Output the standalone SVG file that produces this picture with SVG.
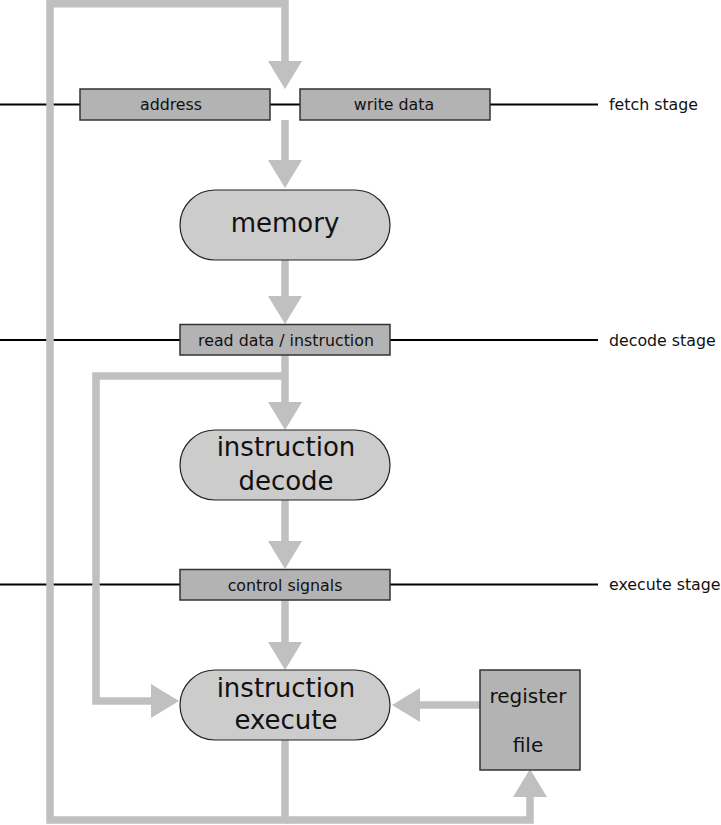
<svg xmlns="http://www.w3.org/2000/svg" width="721" height="825" viewBox="0 0 721 825">
<style>
.flow{fill:none;stroke:#c0c0c0;stroke-width:7.5;stroke-linejoin:miter}
.stage{fill:none;stroke:#000;stroke-width:2}
.reg{fill:#b3b3b3;stroke:#333;stroke-width:1.5}
.node{fill:#cccccc;stroke:#222;stroke-width:1.2}
.lbl{font-family:"DejaVu Sans",sans-serif;font-size:15.8px;fill:#111;text-anchor:middle}
.slbl{font-family:"DejaVu Sans",sans-serif;font-size:15.8px;fill:#111}
.big{font-family:"DejaVu Sans",sans-serif;font-size:26px;fill:#111;text-anchor:middle}
.mid{font-family:"DejaVu Sans",sans-serif;font-size:20px;fill:#111;text-anchor:middle}
</style>
<defs>
<marker id="ah" markerUnits="userSpaceOnUse" markerWidth="28" markerHeight="34" refX="0" refY="17" orient="auto" viewBox="0 0 28 34">
<path d="M0,0 L28,17 L0,34 z" fill="#c0c0c0"/>
</marker>
</defs>
<g id="stage-lines">
<path class="stage" d="M0,104.5 H80 M270,104.5 H300 M490,104.5 H598"/>
<path class="stage" d="M0,340 H180 M390,340 H598"/>
<path class="stage" d="M0,584.5 H180 M390,584.5 H598"/>
</g>
<g id="connectors">
<path class="flow" d="M285,740 V820 H50 V3.75 H285 V61" marker-end="url(#ah)"/>
<path class="flow" d="M285,820 H530 V797" marker-end="url(#ah)"/>
<path class="flow" d="M285,120 V160" marker-end="url(#ah)"/>
<path class="flow" d="M285,260 V296" marker-end="url(#ah)"/>
<path class="flow" d="M285,355 V402" marker-end="url(#ah)"/>
<path class="flow" d="M285,376 H96 V701 H151" marker-end="url(#ah)"/>
<path class="flow" d="M285,500 V541" marker-end="url(#ah)"/>
<path class="flow" d="M285,600 V642" marker-end="url(#ah)"/>
<path class="flow" d="M480,705 H420" marker-end="url(#ah)"/>
</g>
<g id="address">
<rect class="reg" x="80" y="89" width="190" height="31"/>
<text class="lbl" x="171" y="110">address</text>
</g>
<g id="write-data">
<rect class="reg" x="300" y="89" width="190" height="31"/>
<text class="lbl" x="394" y="110">write data</text>
</g>
<g id="memory">
<rect class="node" x="180" y="190" width="210" height="70" rx="35" ry="35"/>
<text class="big" x="285" y="232">memory</text>
</g>
<g id="read-data">
<rect class="reg" x="180" y="324.5" width="210" height="30.5"/>
<text class="lbl" x="286" y="345.5">read data / instruction</text>
</g>
<g id="instruction-decode">
<rect class="node" x="180" y="430" width="210" height="70" rx="35" ry="35"/>
<text class="big" x="286" y="456">instruction</text>
<text class="big" x="286" y="490">decode</text>
</g>
<g id="control-signals">
<rect class="reg" x="180" y="569.5" width="210" height="30.5"/>
<text class="lbl" x="285" y="590.5">control signals</text>
</g>
<g id="instruction-execute">
<rect class="node" x="180" y="670" width="210" height="70" rx="35" ry="35"/>
<text class="big" x="286" y="697">instruction</text>
<text class="big" x="286" y="729">execute</text>
</g>
<g id="register-file">
<rect class="reg" x="480" y="670" width="100" height="100"/>
<text class="mid" x="528" y="703">register</text>
<text class="mid" x="528" y="752">file</text>
</g>
<g id="stage-labels">
<text class="slbl" x="609" y="110">fetch stage</text>
<text class="slbl" x="609" y="345.5">decode stage</text>
<text class="slbl" x="609" y="590">execute stage</text>
</g>
</svg>
